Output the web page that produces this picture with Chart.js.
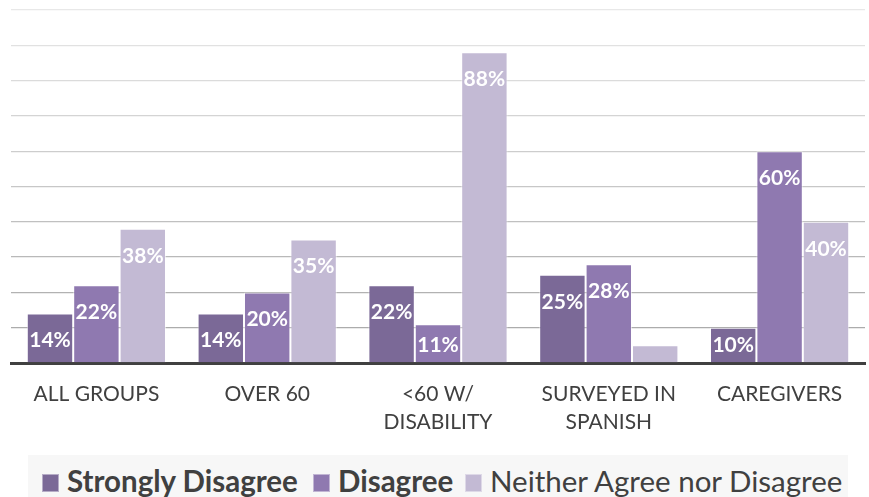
<!DOCTYPE html>
<html>
<head>
<meta charset="utf-8">
<script src="https://cdn.jsdelivr.net/npm/chart.js@4.4.0/dist/chart.umd.min.js"></script>
<style>
  body { margin: 0; background: #fff; width: 869px; height: 497px; overflow: hidden; position: relative; font-family: Lato, sans-serif; }
  #wrap { position: absolute; left: 0; top: 0; width: 869px; height: 455px; }
  #legend { position: absolute; left: 28px; top: 455px; width: 820px; height: 50px; background: #f7f7f7; }
  .item { position: absolute; top: 8px; font-size: 29.5px; line-height: 1.2; color: #404040; white-space: nowrap; }
  .box { display: inline-block; width: 15px; height: 16px; margin-right: 8px; vertical-align: baseline; border: 1px solid rgba(255,255,255,0.45); }
</style>
</head>
<body>
<div id="wrap"><canvas id="chart"></canvas></div>
<div id="legend"></div>
<script>
// data
const categories = [['ALL GROUPS'], ['OVER 60'], ['<60 W/', 'DISABILITY'], ['SURVEYED IN', 'SPANISH'], ['CAREGIVERS']];
const seriesNames = ['Strongly Disagree', 'Disagree', 'Neither Agree nor Disagree'];
const stronglyDisagree = [14, 14, 22, 25, 10];
const disagree = [22, 20, 11, 28, 60];
const neither = [38, 35, 88, 5, 40];
const yMax = 100;
const yStep = 10;

const colors = ['#7b6997', '#8f79b0', '#c3bad4'];
const legendBold = [true, true, false];
const legendLeft = [14, 285, 437];

// white % labels near the top of each bar
const barLabels = {
  id: 'barLabels',
  afterDatasetsDraw(chart) {
    const ctx = chart.ctx;
    ctx.save();
    ctx.font = 'bold 21px Lato';
    ctx.fillStyle = '#ffffff';
    ctx.textAlign = 'center';
    ctx.textBaseline = 'middle';
    chart.data.datasets.forEach((ds, i) => {
      chart.getDatasetMeta(i).data.forEach((bar, j) => {
        const h = bar.base - bar.y;
        if (h < 24) return; // too short for a label
        const y = Math.min(bar.y + 27, bar.base - 17);
        ctx.fillText(ds.data[j] + '%', bar.x, y);
      });
    });
    ctx.restore();
  }
};

function gridGray(value) {
  // lighter at the top, darker near the base
  const t = value / yMax;
  const g = Math.round(165 + (232 - 165) * t);
  return 'rgb(' + g + ',' + g + ',' + g + ')';
}

const chart = new Chart(document.getElementById('chart'), {
  type: 'bar',
  data: {
    labels: categories,
    datasets: [
      { label: seriesNames[0], data: stronglyDisagree, backgroundColor: colors[0] },
      { label: seriesNames[1], data: disagree, backgroundColor: colors[1] },
      { label: seriesNames[2], data: neither, backgroundColor: colors[2] }
    ]
  },
  options: {
    responsive: true,
    maintainAspectRatio: false,
    animation: false,
    datasets: {
      bar: {
        categoryPercentage: 0.815,
        barPercentage: 1,
        borderWidth: 1,
        borderColor: 'rgba(255,255,255,0.55)'
      }
    },
    layout: { padding: { left: 11, right: 4, top: 10, bottom: 0 } },
    plugins: {
      legend: { display: false },
      tooltip: { enabled: false }
    },
    scales: {
      x: {
        grid: { display: false, drawTicks: false },
        border: { display: true, color: '#404040', width: 3 },
        ticks: {
          color: '#404040',
          font: { family: 'Lato', size: 21, lineHeight: 1.33 },
          padding: 17,
          autoSkip: false,
          maxRotation: 0
        },
        afterFit: (scale) => { scale.height = 92; }
      },
      y: {
        min: 0,
        max: yMax,
        ticks: { display: false, stepSize: yStep },
        border: { display: false },
        grid: {
          drawTicks: false,
          lineWidth: 1.3,
          color: (ctx) => gridGray(ctx.tick ? ctx.tick.value : 0)
        },
        afterFit: (scale) => { scale.width = 0; }
      }
    }
  },
  plugins: [barLabels]
});

// legend built from the chart's datasets
const legend = document.getElementById('legend');
chart.data.datasets.forEach((ds, i) => {
  const item = document.createElement('div');
  item.className = 'item';
  item.style.left = legendLeft[i] + 'px';
  item.style.fontWeight = legendBold[i] ? '700' : '400';
  const box = document.createElement('span');
  box.className = 'box';
  box.style.backgroundColor = ds.backgroundColor;
  item.appendChild(box);
  item.appendChild(document.createTextNode(ds.label));
  legend.appendChild(item);
});
</script>
</body>
</html>
